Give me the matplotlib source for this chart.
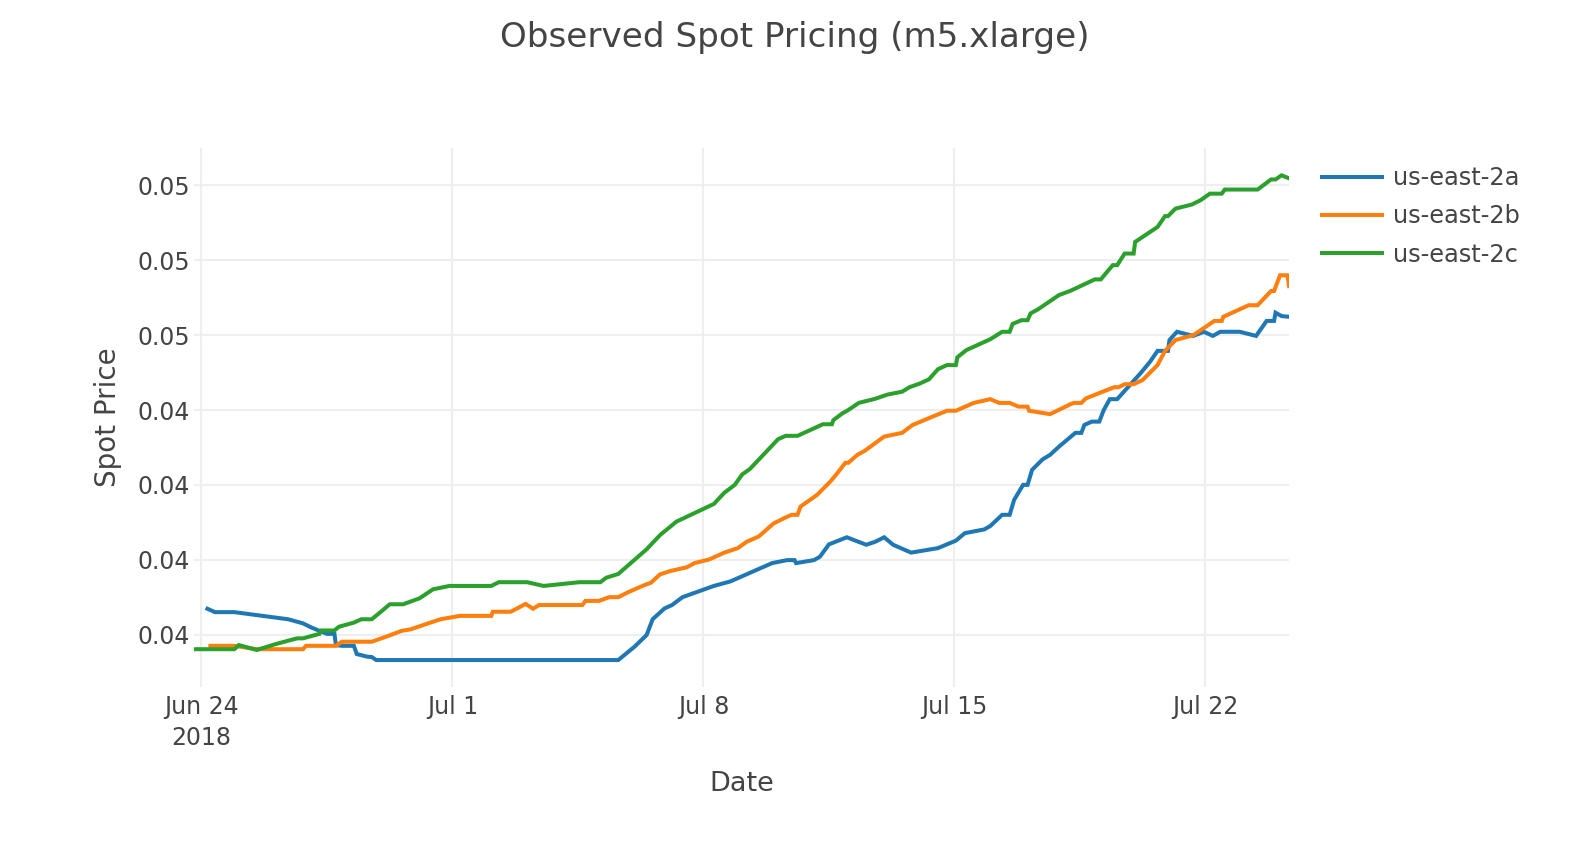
import pandas as pd
import matplotlib
matplotlib.use('Agg')
import matplotlib.pyplot as plt

plt.rcParams['font.family'] = ['DejaVu Sans']

# hours after 2018-06-24 00:00, spot price in $
start = pd.Timestamp('2018-06-24')

a_hours = [4, 9, 22, 58, 68, 73, 79, 84, 89, 90, 94, 102, 104, 111, 114, 117, 279, 290, 298, 302,
           310, 315, 322, 343, 354, 382, 392, 397, 398, 410, 414, 420, 432, 445, 451, 457, 463, 475,
           493, 505, 511, 524, 528, 536, 541, 544, 550, 553, 556, 563, 568, 574, 585, 589, 591, 596,
           601, 604, 608, 613, 629, 635, 640, 647, 648, 653, 664, 671, 677, 682, 695, 706, 713, 718,
           719, 723, 728]
a_price = [0.03869, 0.03860, 0.03860, 0.03841, 0.03830, 0.03820, 0.03810, 0.03802, 0.03802, 0.03772,
           0.03770, 0.03770, 0.03748, 0.03741, 0.03740, 0.03732, 0.03732, 0.03768, 0.03799, 0.03841,
           0.03870, 0.03879, 0.03900, 0.03930, 0.03942, 0.03991, 0.03999, 0.03999, 0.03991, 0.03999,
           0.04008, 0.04041, 0.04060, 0.04040, 0.04048, 0.04060, 0.04040, 0.04019, 0.04031, 0.04051,
           0.04071, 0.04081, 0.04090, 0.04120, 0.04120, 0.04160, 0.04200, 0.04200, 0.04240, 0.04268,
           0.04280, 0.04302, 0.04339, 0.04339, 0.04360, 0.04369, 0.04369, 0.04400, 0.04429, 0.04429,
           0.04500, 0.04529, 0.04558, 0.04558, 0.04587, 0.04609, 0.04598, 0.04609, 0.04598, 0.04609,
           0.04609, 0.04598, 0.04638, 0.04638, 0.04660, 0.04651, 0.04649]

b_hours = [6, 22, 37, 68, 70, 90, 94, 114, 124, 134, 140, 151, 160, 173, 194, 195, 207, 217, 222, 226,
           255, 257, 266, 273, 279, 285, 294, 301, 307, 314, 325, 330, 340, 350, 359, 365, 373, 383,
           390, 395, 399, 401, 412, 421, 426, 431, 433, 439, 444, 457, 469, 476, 488, 499, 505, 517,
           528, 534, 541, 547, 553, 554, 568, 582, 584, 589, 592, 611, 614, 618, 624, 630, 640, 645,
           652, 664, 678, 683, 684, 701, 707, 716, 718, 722, 727, 728]
b_price = [0.03770, 0.03770, 0.03761, 0.03761, 0.03770, 0.03770, 0.03781, 0.03781, 0.03795, 0.03810,
           0.03814, 0.03829, 0.03841, 0.03850, 0.03850, 0.03861, 0.03861, 0.03882, 0.03869, 0.03879,
           0.03879, 0.03890, 0.03890, 0.03900, 0.03900, 0.03912, 0.03928, 0.03939, 0.03961, 0.03970,
           0.03980, 0.03991, 0.04001, 0.04019, 0.04031, 0.04048, 0.04062, 0.04097, 0.04111, 0.04120,
           0.04120, 0.04142, 0.04173, 0.04209, 0.04233, 0.04259, 0.04259, 0.04280, 0.04291, 0.04329,
           0.04339, 0.04360, 0.04380, 0.04398, 0.04398, 0.04419, 0.04429, 0.04419, 0.04419, 0.04409,
           0.04409, 0.04398, 0.04389, 0.04416, 0.04419, 0.04419, 0.04431, 0.04461, 0.04461, 0.04469,
           0.04469, 0.04480, 0.04520, 0.04558, 0.04587, 0.04600, 0.04638, 0.04638, 0.04649, 0.04680,
           0.04680, 0.04718, 0.04718, 0.04760, 0.04760, 0.04731]

c_hours = [-5, 22, 25, 37, 50, 64, 68, 79, 80, 89, 92, 102, 107, 114, 121, 126, 135, 146, 155, 166,
           194, 199, 218, 229, 253, 267, 271, 279, 298, 307, 318, 343, 350, 357, 362, 367, 386, 391,
           399, 416, 422, 423, 429, 433, 440, 451, 459, 469, 474, 481, 487, 493, 499, 505, 506, 512,
           528, 536, 541, 543, 549, 553, 555, 560, 574, 582, 598, 602, 610, 613, 618, 624, 625, 640,
           645, 647, 652, 663, 669, 675, 683, 685, 707, 716, 719, 723, 728]
c_price = [0.03761, 0.03761, 0.03772, 0.03759, 0.03775, 0.03790, 0.03790, 0.03802, 0.03811, 0.03811,
           0.03821, 0.03832, 0.03841, 0.03841, 0.03864, 0.03881, 0.03881, 0.03897, 0.03921, 0.03930,
           0.03930, 0.03940, 0.03940, 0.03930, 0.03940, 0.03940, 0.03952, 0.03962, 0.04028, 0.04066,
           0.04102, 0.04149, 0.04179, 0.04200, 0.04228, 0.04242, 0.04322, 0.04331, 0.04331, 0.04362,
           0.04362, 0.04373, 0.04391, 0.04400, 0.04419, 0.04430, 0.04441, 0.04449, 0.04461, 0.04471,
           0.04482, 0.04509, 0.04520, 0.04520, 0.04541, 0.04560, 0.04589, 0.04609, 0.04609, 0.04630,
           0.04640, 0.04640, 0.04658, 0.04669, 0.04707, 0.04719, 0.04749, 0.04749, 0.04787, 0.04787,
           0.04818, 0.04818, 0.04849, 0.04889, 0.04918, 0.04918, 0.04938, 0.04949, 0.04961, 0.04978,
           0.04978, 0.04989, 0.04989, 0.05016, 0.05016, 0.05027, 0.05019]

zones = ['us-east-2a', 'us-east-2b', 'us-east-2c']
colors = ['#1f77b4', '#ff7f0e', '#2ca02c']

y_ticks = [0.038, 0.040, 0.042, 0.044, 0.046, 0.048, 0.050]
x_tick_dates = ['2018-06-24', '2018-07-01', '2018-07-08', '2018-07-15', '2018-07-22']
x_tick_labels = ['Jun 24\n2018', 'Jul 1', 'Jul 8', 'Jul 15', 'Jul 22']

fig = plt.figure(figsize=(15.7, 8.64), dpi=100)
ax = fig.add_axes([194 / 1570, 1 - 687 / 864, 1095 / 1570, 539 / 864])

series = [(a_hours, a_price), (b_hours, b_price), (c_hours, c_price)]
for (hrs, price), zone, col in zip(series, zones, colors):
    t = start + pd.to_timedelta(hrs, unit='h')
    ax.plot(t, price, color=col, lw=2.9, label=zone, solid_joinstyle='miter')

ax.margins(x=0)
ax.set_ylim(0.0366, 0.0510)
ax.set_yticks(y_ticks)
ax.set_yticklabels(['%.2f' % v for v in y_ticks])
ax.set_xticks(pd.to_datetime(x_tick_dates))
ax.set_xticklabels(x_tick_labels, linespacing=1.35)

for s in ax.spines.values():
    s.set_visible(False)
ax.grid(True, color='#eeeeee', lw=1.5)
ax.set_axisbelow(True)
ax.tick_params(length=0, labelsize=17, labelcolor='#444444')
ax.tick_params(axis='y', pad=3)
ax.tick_params(axis='x', pad=6)

ax.set_xlabel('Date', fontsize=19.5, color='#444444', labelpad=15)
ax.set_ylabel('Spot Price', fontsize=20, color='#444444', labelpad=11)
fig.text(0.506, 0.957, 'Observed Spot Pricing (m5.xlarge)', fontsize=24.6, color='#444444',
         ha='center', va='center')

ax.legend(loc='upper left', bbox_to_anchor=(1322 / 1570, 1 - 166 / 864), bbox_transform=fig.transFigure,
          frameon=False, fontsize=17.3, handlelength=2.5, handletextpad=0.45, labelspacing=0.6,
          borderpad=0, borderaxespad=0, labelcolor='#444444')

fig.savefig('out.png', dpi=100)
